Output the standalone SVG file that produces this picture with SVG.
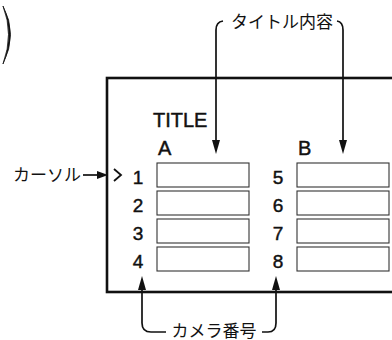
<svg xmlns="http://www.w3.org/2000/svg" width="392" height="340" viewBox="0 0 392 340">
<defs>
<style>
.jp{font-family:"Noto Sans CJK JP","Noto Sans",sans-serif;font-size:17px;fill:#111}
.lt{font-family:"Liberation Sans",Arial,sans-serif;fill:#111;stroke:#111;stroke-width:0.45}
.num{font-size:19px;text-anchor:middle}
.slot{fill:#fff;stroke:#333;stroke-width:1.1}
.frame{fill:none;stroke:#111;stroke-width:2.6}
.conn{fill:none;stroke:#111;stroke-width:1.7}
.head{fill:#111}
</style>
</defs>
<rect width="392" height="340" fill="#fff"/>
<path d="M3,6 Q18,34 3,64 Q14,34 3,6 Z" fill="#111" stroke="#111" stroke-width="0.8"/>
<g id="screen">
<rect class="frame" x="107" y="78" width="300" height="214"/>
</g>
<g id="title-text">
<text class="lt" x="153" y="127" font-size="20">TITLE</text>
<text class="lt" x="158" y="155" font-size="20">A</text>
<text class="lt" x="298" y="155" font-size="20">B</text>
</g>
<g id="column-a">
<rect class="slot" x="157" y="163" width="92" height="24"/>
<rect class="slot" x="157" y="191" width="92" height="24"/>
<rect class="slot" x="157" y="219" width="92" height="24"/>
<rect class="slot" x="157" y="247" width="92" height="24"/>
<text class="lt num" x="138" y="184">1</text>
<text class="lt num" x="138" y="212">2</text>
<text class="lt num" x="138" y="240">3</text>
<text class="lt num" x="138" y="268">4</text>
</g>
<g id="column-b">
<rect class="slot" x="297" y="163" width="92" height="24"/>
<rect class="slot" x="297" y="191" width="92" height="24"/>
<rect class="slot" x="297" y="219" width="92" height="24"/>
<rect class="slot" x="297" y="247" width="92" height="24"/>
<text class="lt num" x="278" y="184">5</text>
<text class="lt num" x="278" y="212">6</text>
<text class="lt num" x="278" y="240">7</text>
<text class="lt num" x="278" y="268">8</text>
</g>
<g id="cursor-mark">
<polyline points="114,169 121,175 114,181" fill="none" stroke="#111" stroke-width="1.8"/>
</g>
<g id="label-cursor">
<text class="jp" x="13" y="181">カーソル</text>
</g>
<g id="label-title-content">
<text class="jp" x="282" y="28" text-anchor="middle">タイトル内容</text>
</g>
<g id="label-camera">
<text class="jp" x="214" y="337" text-anchor="middle">カメラ番号</text>
</g>
<g id="connectors">
<path class="conn" d="M83,175 H100"/>
<polygon class="head" points="108,175 97,171 97,179"/>
<path class="conn" d="M223,21 Q216,22 216,30 V142"/>
<polygon class="head" points="216,154 212,140 220,140"/>
<path class="conn" d="M337,21 Q343,22 343,30 V142"/>
<polygon class="head" points="343,154 339,140 347,140"/>
<path class="conn" d="M142,288 V323 Q142,332 151,332 H166"/>
<polygon class="head" points="142,276 138,290 146,290"/>
<path class="conn" d="M262,332 H268 Q276,332 276,323 V288"/>
<polygon class="head" points="276,276 272,290 280,290"/>
</g>
</svg>
